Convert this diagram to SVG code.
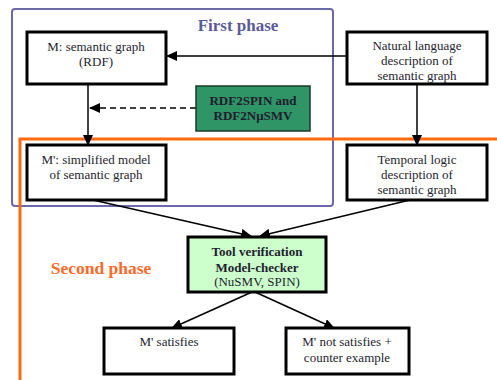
<svg xmlns="http://www.w3.org/2000/svg" width="497" height="380" viewBox="0 0 497 380" font-family="'Liberation Serif', serif">
<defs>
<marker id="ah" markerWidth="11" markerHeight="10" refX="10" refY="5" orient="auto" markerUnits="userSpaceOnUse">
<path d="M0,0 L11,5 L0,10 Z" fill="#000"/>
</marker>
<style>
.box{stroke:#000;stroke-width:3}
.t{font-size:13px;fill:#1e1e2e;text-anchor:middle}
.b{font-weight:bold;font-size:13px}
.c{stroke:#000;stroke-width:1.5;fill:none;marker-end:url(#ah)}
</style>
</defs>
<rect width="497" height="380" fill="#fff"/>
<g id="phase1">
<rect x="12" y="9" width="321" height="197" rx="3" fill="none" stroke="#6a6aaa" stroke-width="2"/>
<text x="238" y="31" font-size="17" font-weight="bold" fill="#5a5a9a" text-anchor="middle">First phase</text>
</g>
<g id="phase2">
<path d="M20,380 L20,139 L497,139" fill="none" stroke="#ff6a10" stroke-width="3"/>
<text x="101" y="274" font-size="17.5" font-weight="bold" fill="#ff6a2a" text-anchor="middle">Second phase</text>
</g>
<g id="connectors">
<line class="c" x1="347" y1="56" x2="167" y2="56"/>
<line class="c" x1="196" y1="108" x2="90" y2="108" stroke-dasharray="6,4"/>
<line class="c" x1="88" y1="84" x2="88" y2="145"/>
<line class="c" x1="417" y1="84" x2="417" y2="145"/>
<line class="c" x1="93" y1="200" x2="251" y2="236"/>
<line class="c" x1="410" y1="200" x2="260" y2="236"/>
<line class="c" x1="252" y1="292" x2="172" y2="328"/>
<line class="c" x1="255" y1="292" x2="334" y2="328"/>
</g>
<g id="M">
<rect class="box" x="27" y="32" width="139" height="52" fill="#fff"/>
<text class="t" x="96" y="51">M: semantic graph</text>
<text class="t" x="96" y="66">(RDF)</text>
</g>
<g id="NL">
<rect class="box" x="347" y="32" width="140" height="52" fill="#fff"/>
<text class="t" x="417" y="50">Natural language</text>
<text class="t" x="417" y="65">description of</text>
<text class="t" x="417" y="80">semantic graph</text>
</g>
<g id="RDF2">
<rect x="196" y="86" width="114" height="45" fill="#2f9466" stroke="#1a3a2a" stroke-width="1.5"/>
<text class="t b" x="253" y="105">RDF2SPIN and</text>
<text class="t b" x="253" y="120">RDF2NμSMV</text>
</g>
<g id="Mp">
<rect class="box" x="27" y="145" width="139" height="55" fill="#fff"/>
<text class="t" x="96" y="164">M': simplified model</text>
<text class="t" x="96" y="179">of semantic graph</text>
</g>
<g id="TL">
<rect class="box" x="347" y="145" width="140" height="55" fill="#fff"/>
<text class="t" x="417" y="164">Temporal logic</text>
<text class="t" x="417" y="179">description of</text>
<text class="t" x="417" y="194">semantic graph</text>
</g>
<g id="Tool">
<rect class="box" x="188" y="237" width="138" height="55" fill="#ccffcc"/>
<text class="t b" x="257" y="256">Tool verification</text>
<text class="t b" x="257" y="272">Model-checker</text>
<text class="t" x="257" y="286">(NuSMV, SPIN)</text>
</g>
<g id="Sat">
<rect class="box" x="104" y="328" width="130" height="46" fill="#fff"/>
<text class="t" x="169" y="346">M' satisfies</text>
</g>
<g id="NotSat">
<rect class="box" x="286" y="328" width="123" height="46" fill="#fff"/>
<text class="t" x="347" y="346">M' not satisfies +</text>
<text class="t" x="347" y="362">counter example</text>
</g>
</svg>
